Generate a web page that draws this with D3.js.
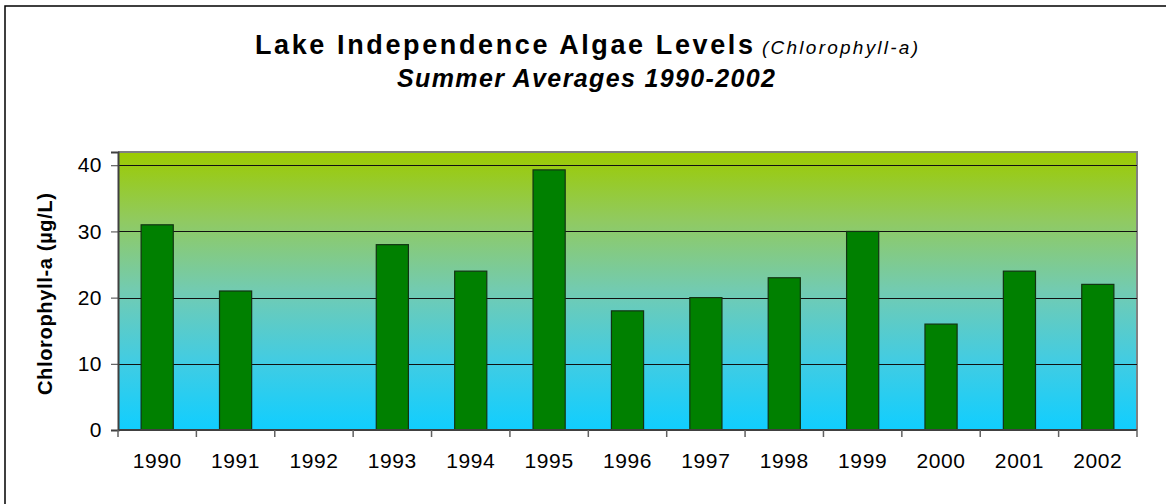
<!DOCTYPE html>
<html>
<head>
<meta charset="utf-8">
<script src="https://cdn.jsdelivr.net/npm/d3@7"></script>
<style>
  body { margin: 0; background: #fff; }
  text { font-family: "Liberation Sans", Arial, sans-serif; }
</style>
</head>
<body>
<svg id="chart"></svg>
<script>
const years = ["1990", "1991", "1992", "1993", "1994", "1995", "1996", "1997", "1998", "1999", "2000", "2001", "2002"];
const chlorophyll = [31, 21, null, 28, 24, 39.3, 18, 20, 23, 30, 16, 24, 22];
const yTicks = [0, 10, 20, 30, 40];

const W = 1166, H = 504;
const margin = { top: 152, right: 29, bottom: 74, left: 118 };
const width = W - margin.left - margin.right;
const height = H - margin.top - margin.bottom;

const root = d3.select("#chart").attr("width", W).attr("height", H);

// outer frame (right/bottom edges fall outside the picture)
root.append("rect")
    .attr("x", 5).attr("y", 6)
    .attr("width", W + 10).attr("height", H + 10)
    .attr("fill", "#fff")
    .attr("stroke", "#000")
    .attr("stroke-width", 1.5);

const defs = root.append("defs");
const grad = defs.append("linearGradient")
    .attr("id", "bg").attr("x1", 0).attr("y1", 0).attr("x2", 0).attr("y2", 1);
[["0%", "#9ccb00"], ["25%", "#90ca62"], ["50%", "#72cbb2"], ["75%", "#42cce2"], ["100%", "#10ceff"]]
    .forEach(s => grad.append("stop").attr("offset", s[0]).attr("stop-color", s[1]));

const svg = root.append("g")
    .attr("transform", "translate(" + margin.left + "," + margin.top + ")");

const xScale = d3.scaleBand().domain(years).range([0, width]).paddingInner(0.59).paddingOuter(0.295);
const yScale = d3.scaleLinear().domain([0, 42]).range([height, 0]);

// plot area
svg.append("rect")
    .attr("width", width).attr("height", height)
    .attr("fill", "url(#bg)");

svg.append("path")
    .attr("d", "M0,0H" + width + "V" + height)
    .attr("fill", "none")
    .attr("stroke", "#808080")
    .attr("stroke-width", 2);

// gridlines
svg.selectAll(".grid")
    .data(yTicks.filter(d => d > 0))
    .enter().append("line")
    .attr("class", "grid")
    .attr("x1", 0).attr("x2", width)
    .attr("y1", d => Math.round(yScale(d)) + 0.5)
    .attr("y2", d => Math.round(yScale(d)) + 0.5)
    .attr("stroke", "#111")
    .attr("stroke-width", 1);

// bars
svg.selectAll(".bar")
    .data(years.map((y, i) => ({ year: y, value: chlorophyll[i] })).filter(d => d.value != null))
    .enter().append("rect")
    .attr("class", "bar")
    .attr("x", d => xScale(d.year))
    .attr("y", d => yScale(d.value))
    .attr("width", xScale.bandwidth())
    .attr("height", d => height - yScale(d.value))
    .attr("fill", "#008000")
    .attr("stroke", "#123312")
    .attr("stroke-width", 1.2);

// y axis
const yAxis = d3.axisLeft(yScale).tickValues(yTicks).tickSize(7).tickPadding(9);
const gy = svg.append("g").call(yAxis);
gy.select(".domain").attr("stroke", "#404040").attr("stroke-width", 2);
gy.selectAll(".tick line").attr("stroke", "#404040");
gy.selectAll(".tick text")
    .attr("font-size", "21px")
    .attr("letter-spacing", "0.5px")
    .attr("fill", "#000");

// x axis: ticks sit on category boundaries
const step = xScale.step();
const gx = svg.append("g").attr("transform", "translate(0," + height + ")");
gx.append("line")
    .attr("x1", 0).attr("x2", width)
    .attr("stroke", "#404040").attr("stroke-width", 2);
gx.selectAll(".xtick")
    .data(d3.range(years.length + 1))
    .enter().append("line")
    .attr("class", "xtick")
    .attr("x1", i => i * step).attr("x2", i => i * step)
    .attr("y1", 0).attr("y2", 7)
    .attr("stroke", "#606060").attr("stroke-width", 1.5);
gx.selectAll(".xlabel")
    .data(years)
    .enter().append("text")
    .attr("class", "xlabel")
    .attr("x", d => xScale(d) + xScale.bandwidth() / 2)
    .attr("y", 38)
    .attr("text-anchor", "middle")
    .attr("font-size", "21px")
    .attr("letter-spacing", "0.6px")
    .text(d => d);

// y axis title
svg.append("text")
    .attr("transform", "translate(-66," + (height / 2 + 3) + ") rotate(-90)")
    .attr("text-anchor", "middle")
    .attr("font-size", "20px")
    .attr("font-weight", "bold")
    .attr("textLength", 202)
    .attr("lengthAdjust", "spacing")
    .text("Chlorophyll-a (µg/L)");

// chart titles
root.append("text")
    .attr("x", 255).attr("y", 54)
    .attr("font-size", "27px")
    .attr("font-weight", "bold")
    .attr("textLength", 498)
    .attr("lengthAdjust", "spacing")
    .text("Lake Independence Algae Levels");

root.append("text")
    .attr("x", 762).attr("y", 54)
    .attr("font-size", "19px")
    .attr("font-style", "italic")
    .attr("textLength", 156)
    .attr("lengthAdjust", "spacing")
    .text("(Chlorophyll-a)");

root.append("text")
    .attr("x", 397).attr("y", 87)
    .attr("font-size", "25px")
    .attr("font-weight", "bold")
    .attr("font-style", "italic")
    .attr("textLength", 378)
    .attr("lengthAdjust", "spacing")
    .text("Summer Averages 1990-2002");
</script>
</body>
</html>
